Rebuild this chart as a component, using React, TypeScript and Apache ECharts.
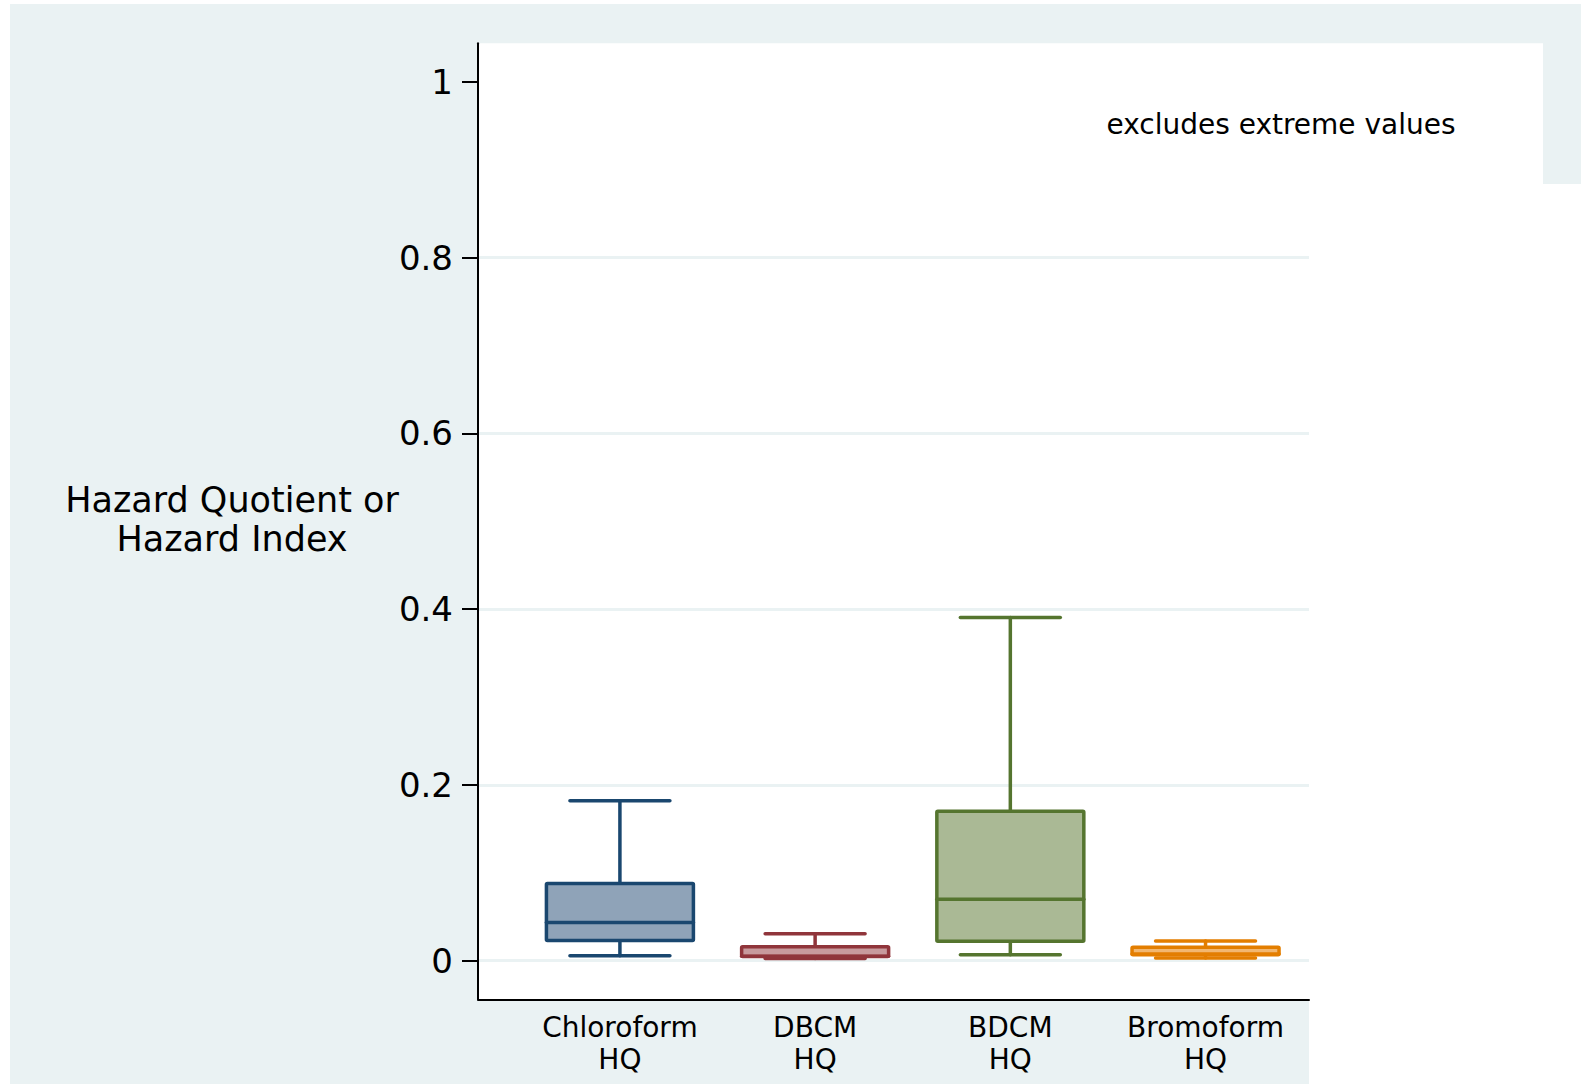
import React, { useEffect, useRef } from "react";
import * as echarts from "echarts";

const categories = ["Chloroform\nHQ", "DBCM\nHQ", "BDCM\nHQ", "Bromoform\nHQ"];
const positions = [0, 1, 2, 3];
const whiskerLow = [0.0057, 0.0023, 0.0068, 0.0031];
const q1 = [0.0228, 0.0046, 0.0221, 0.0068];
const median = [0.0433, 0.005, 0.0699, 0.0075];
const q3 = [0.0877, 0.0159, 0.17, 0.0153];
const whiskerHigh = [0.1821, 0.0307, 0.3904, 0.0224];
const yTicks = [0, 0.2, 0.4, 0.6, 0.8, 1];
const yTitle = "Hazard Quotient or\nHazard Index";
const note = "excludes extreme values";

const strokeColors = ["#1a476f", "#90353b", "#55752f", "#e37e00"];
const fillColors = ["#8fa3b8", "#c89a9d", "#aab995", "#f2b770"];
const LIGHT = "#eaf2f3";
const FONT = "DejaVu Sans";

export default function App() {
  const ref = useRef<HTMLDivElement>(null);
  useEffect(() => {
    document.body.style.margin = "0";
    const chart = echarts.init(ref.current!, null, { renderer: "svg" });
    const data = positions.map((p, i) => [p, whiskerLow[i], q1[i], median[i], q3[i], whiskerHigh[i]]);
    chart.setOption({
      animation: false,
      backgroundColor: "#ffffff",
      grid: { left: 478, top: 43.3, width: 831, height: 956, containLabel: false },
      graphic: [
        { type: "rect", z: -100, silent: true, shape: { x: 10, y: 4, width: 1571, height: 1080 }, style: { fill: LIGHT } },
        { type: "rect", z: -99, silent: true, shape: { x: 478, y: 43.3, width: 831, height: 956 }, style: { fill: "#ffffff" } },
        { type: "rect", z: -99, silent: true, shape: { x: 1309, y: 43.3, width: 234, height: 141 }, style: { fill: "#ffffff" } },
        { type: "rect", z: -99, silent: true, shape: { x: 1309, y: 184, width: 272, height: 901 }, style: { fill: "#ffffff" } },
        {
          type: "text",
          z: 10,
          x: 232,
          y: 519,
          style: {
            text: yTitle,
            fontSize: 35,
            lineHeight: 39,
            fontFamily: FONT,
            fill: "#000",
            align: "center",
            verticalAlign: "middle",
          },
        },
        {
          type: "text",
          z: 10,
          x: 1281,
          y: 124,
          style: {
            text: note,
            fontSize: 28,
            fontFamily: FONT,
            fill: "#000",
            align: "center",
            verticalAlign: "middle",
          },
        },
      ],
      xAxis: {
        type: "value",
        min: -0.727,
        max: 3.53,
        axisLine: { show: true, onZero: false, lineStyle: { color: "#000", width: 2 } },
        axisTick: { show: false },
        splitLine: { show: false },
        axisLabel: {
          customValues: positions,
          formatter: (v: number) => categories[Math.round(v)] ?? "",
          fontSize: 28,
          lineHeight: 32,
          margin: 12,
          color: "#000",
          fontFamily: FONT,
        },
      },
      yAxis: {
        type: "value",
        min: -0.044,
        max: 1.044,
        axisLine: { show: true, onZero: false, lineStyle: { color: "#000", width: 2 } },
        axisTick: { show: true, length: 16, customValues: yTicks, lineStyle: { color: "#000", width: 2 } },
        axisLabel: {
          customValues: yTicks,
          formatter: (v: number) => String(v),
          fontSize: 34,
          margin: 25,
          color: "#000",
          fontFamily: FONT,
        },
        splitLine: {
          show: true,
          lineStyle: { color: [LIGHT, LIGHT, LIGHT, LIGHT, LIGHT, "rgba(0,0,0,0)"], width: 3 },
        },
      },
      series: [
        {
          type: "custom",
          data,
          encode: { x: 0, y: [1, 2, 3, 4, 5] },
          z: 5,
          renderItem: (params: any, api: any) => {
            const i = params.dataIndex;
            const x = api.value(0);
            const pMin = api.coord([x, api.value(1)]);
            const pQ1 = api.coord([x, api.value(2)]);
            const pMed = api.coord([x, api.value(3)]);
            const pQ3 = api.coord([x, api.value(4)]);
            const pMax = api.coord([x, api.value(5)]);
            const unit = api.size([1, 0])[0];
            const boxHalf = unit * 0.3765;
            const capHalf = unit * 0.256;
            const cx = pMin[0];
            const stroke = strokeColors[i];
            const lineStyle = { stroke, lineWidth: 3.5, lineCap: "round" };
            return {
              type: "group",
              children: [
                { type: "line", shape: { x1: cx, y1: pMax[1], x2: cx, y2: pQ3[1] }, style: lineStyle },
                { type: "line", shape: { x1: cx, y1: pQ1[1], x2: cx, y2: pMin[1] }, style: lineStyle },
                { type: "line", shape: { x1: cx - capHalf, y1: pMax[1], x2: cx + capHalf, y2: pMax[1] }, style: lineStyle },
                { type: "line", shape: { x1: cx - capHalf, y1: pMin[1], x2: cx + capHalf, y2: pMin[1] }, style: lineStyle },
                {
                  type: "rect",
                  shape: { x: cx - boxHalf, y: pQ3[1], width: boxHalf * 2, height: pQ1[1] - pQ3[1], r: 1 },
                  style: { fill: fillColors[i], stroke, lineWidth: 3.5 },
                },
                { type: "line", shape: { x1: cx - boxHalf, y1: pMed[1], x2: cx + boxHalf, y2: pMed[1] }, style: lineStyle },
              ],
            };
          },
        },
      ],
    });
    return () => chart.dispose();
  }, []);
  return <div ref={ref} style={{ width: 1581, height: 1085 }} />;
}
